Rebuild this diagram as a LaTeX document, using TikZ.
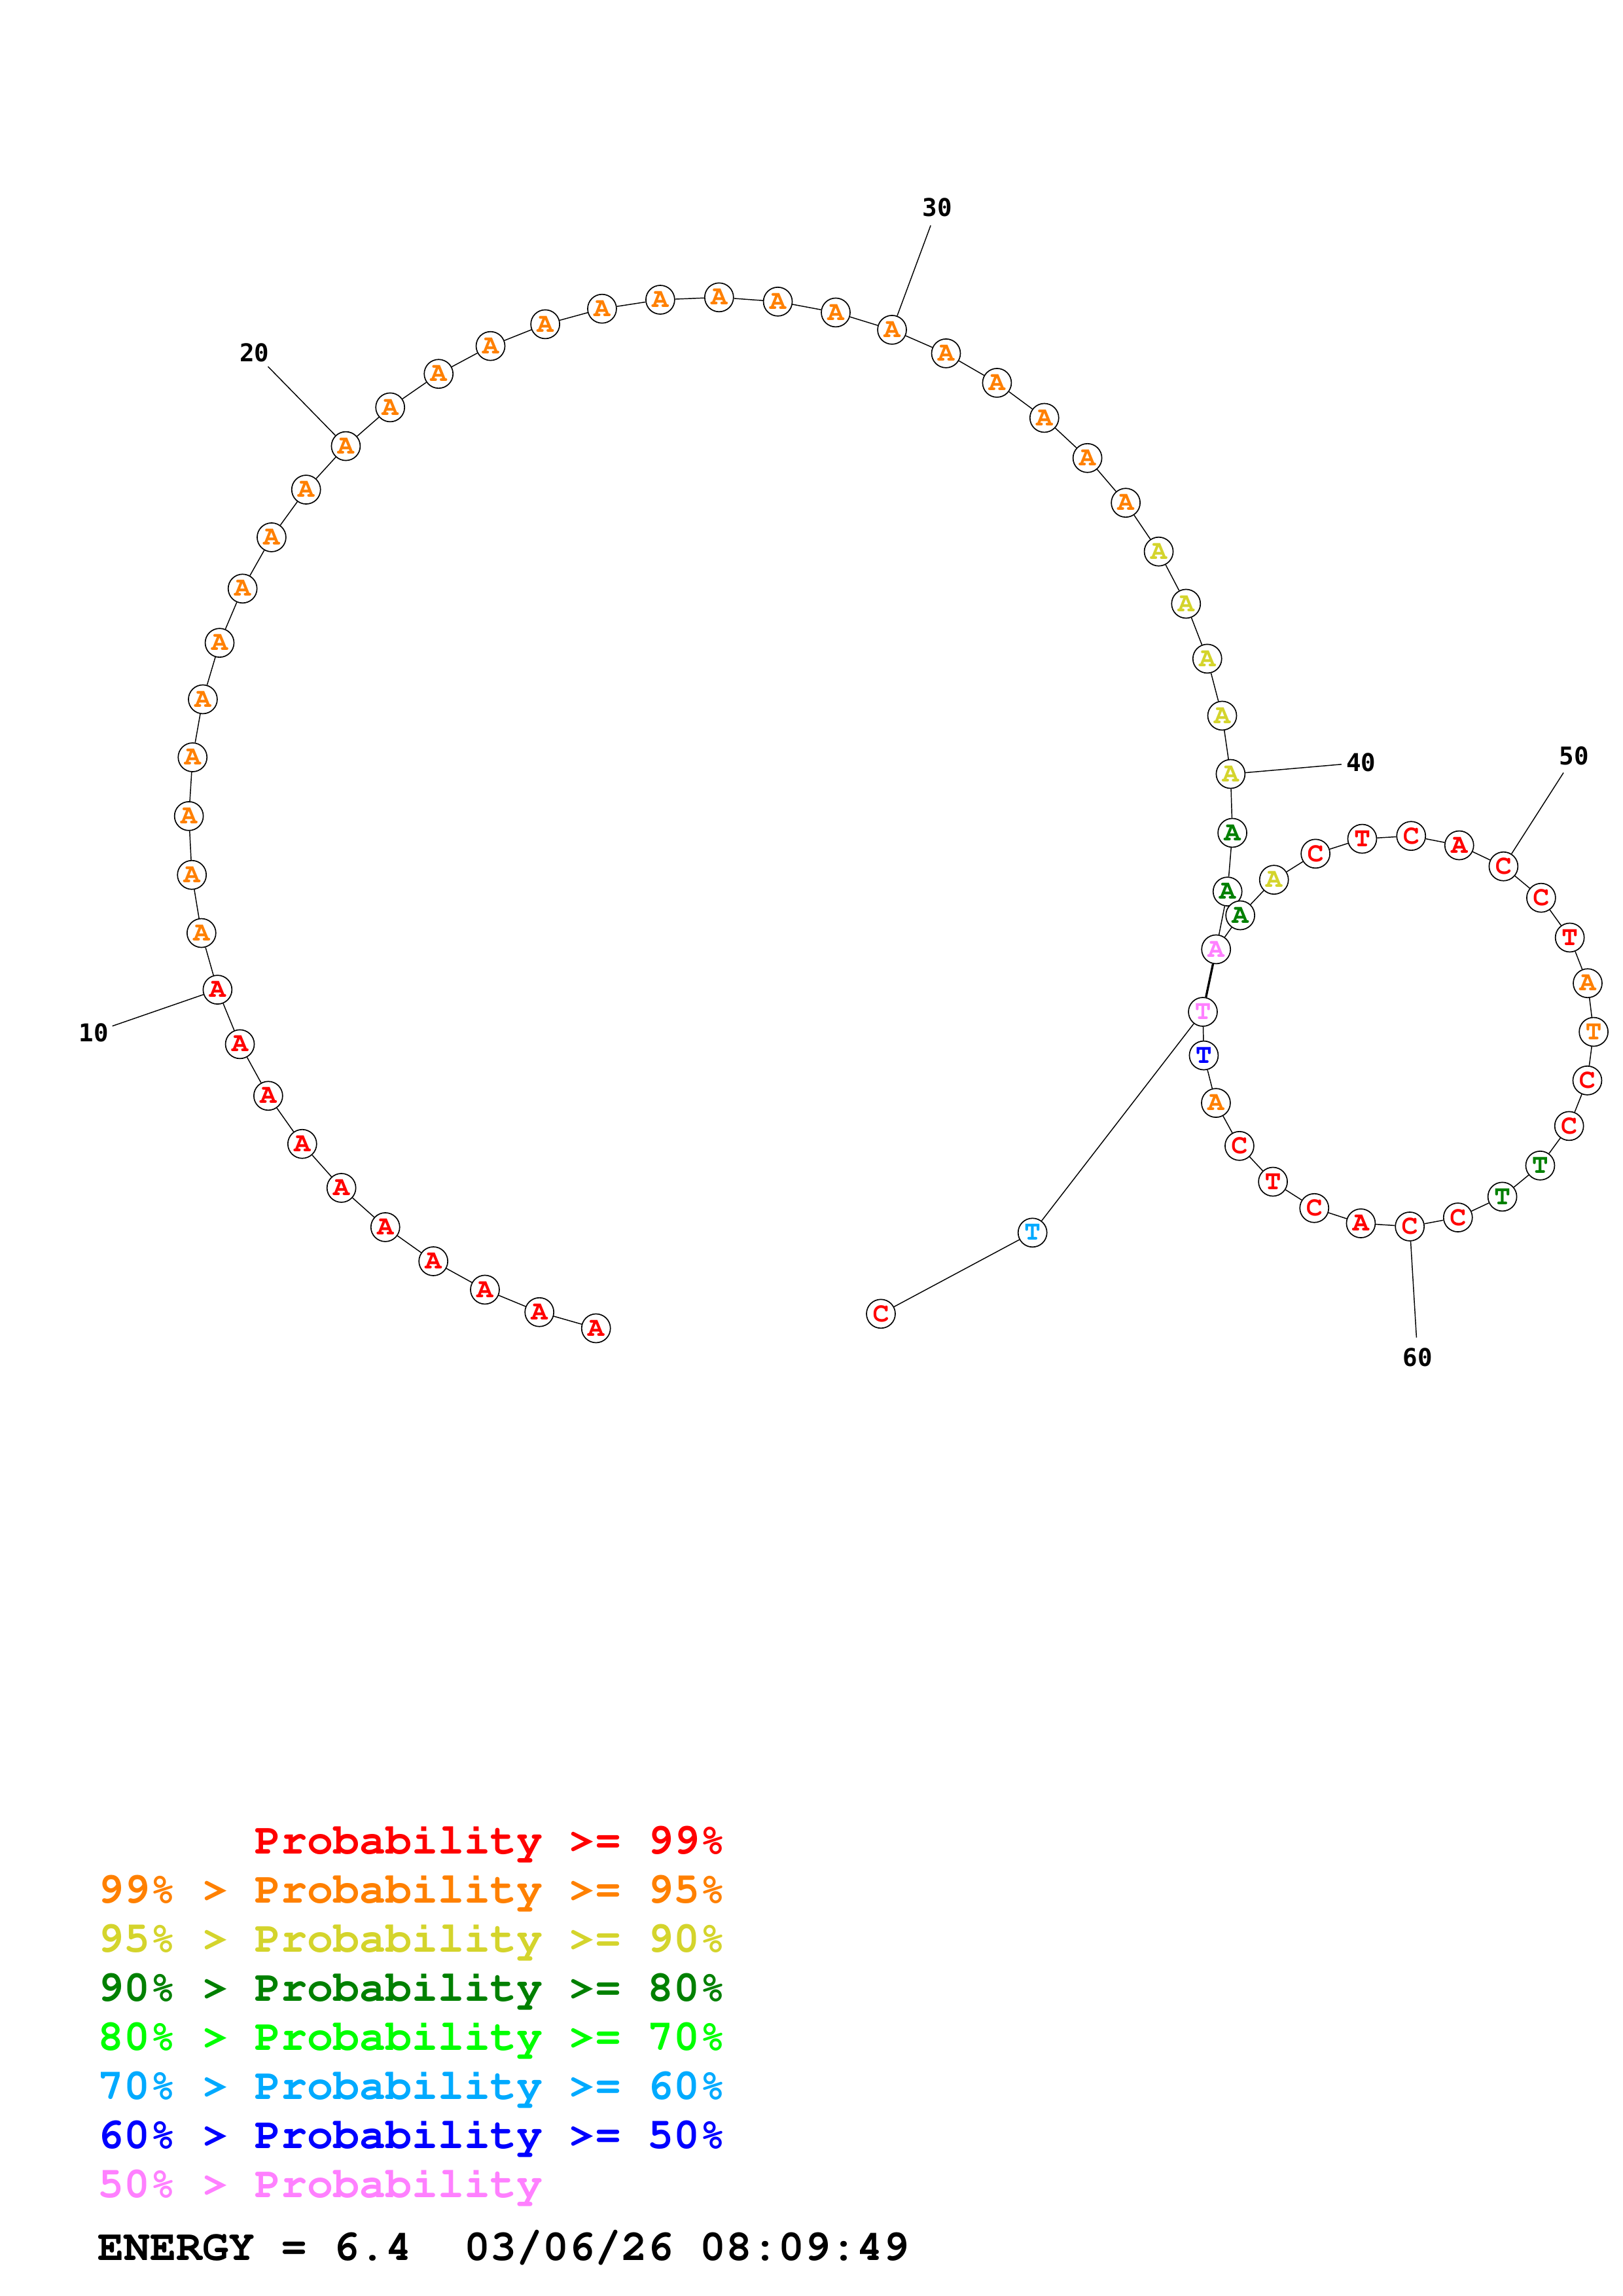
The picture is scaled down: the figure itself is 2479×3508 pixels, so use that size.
\documentclass[tikz,border=0pt]{standalone}
\usepackage[T1,TU]{fontenc}
\usepackage{fontspec}
\newfontfamily\numfont{DejaVu Sans Mono}
\newcommand\courb{\fontencoding{T1}\fontfamily{pcr}\fontseries{b}\selectfont}
\usepackage{tikz}
\usetikzlibrary{calc,backgrounds}

\definecolor{pRed}{RGB}{255,0,0}
\definecolor{pOrange}{RGB}{255,128,0}
\definecolor{pYellow}{RGB}{212,212,44}
\definecolor{pDkGreen}{RGB}{0,128,0}
\definecolor{pGreen}{RGB}{0,255,0}
\definecolor{pCyan}{RGB}{0,170,255}
\definecolor{pBlue}{RGB}{0,0,255}
\definecolor{pPink}{RGB}{255,128,255}

\tikzset{
  nuc/.style={circle,draw=black,fill=white,line width=0.4pt,minimum size=10.56pt,inner sep=0pt,
    font=\courb\fontsize{10}{10}\selectfont},
  bond/.style={line width=0.35pt},
  bpair/.style={line width=0.8pt},
  numlbl/.style={inner sep=0pt,font=\numfont\bfseries\fontsize{9}{9}\selectfont},
  legline/.style={anchor=base west,inner sep=0pt,font=\courb\fontsize{16}{16}\selectfont},
}

\begin{document}
\begin{tikzpicture}[x=0.2401pt,y=-0.2401pt]
\useasboundingbox (0,0) rectangle (2479,3508);

\def\Ra{797.4}
\def\Rb{299}
\coordinate (ctrA) at (1086,1251.6);
\coordinate (ctrB) at (2136.1,1575.5);

% exterior loop 1-43
\foreach \i in {1,...,43}{
  \pgfmathsetmacro\ang{102.7+(\i-1)*6.47}
  \ifnum\i<11 \def\col{pRed}\else
  \ifnum\i<36 \def\col{pOrange}\else
  \ifnum\i<41 \def\col{pYellow}\else
  \ifnum\i<43 \def\col{pDkGreen}\else \def\col{pPink}\fi\fi\fi\fi
  \node[nuc,text=\col] (n\i) at ($(ctrA)+(\ang:\Ra)$) {A};
}

% hairpin loop 44-66
\foreach \b/\col [count=\k from 44] in {A/pDkGreen,A/pYellow,C/pRed,T/pRed,C/pRed,A/pRed,C/pRed,C/pRed,T/pRed,A/pOrange,T/pOrange,C/pRed,C/pRed,T/pDkGreen,T/pDkGreen,C/pRed,C/pRed,A/pRed,C/pRed,T/pRed,C/pRed,A/pOrange,T/pBlue}{
  \pgfmathsetmacro\ang{216.3+(\k-44)*14.39}
  \node[nuc,text=\col] (n\k) at ($(ctrB)+(\ang:\Rb)$) {\b};
}

\node[nuc,text=pPink] (n67) at (1838,1546) {T};
\node[nuc,text=pCyan] (n68) at (1577.7,1883.3) {T};
\node[nuc,text=pRed] (n69) at (1346,2007.3) {C};

% backbone and pair
\begin{scope}[on background layer]
\foreach \i [evaluate=\i as \j using int(\i+1)] in {1,...,68}
  \draw[bond] (n\i) -- (n\j);
\draw[bpair] (n43) -- (n67);
\end{scope}

% numbering
\foreach \i in {10,20,30,40}{
  \pgfmathsetmacro\ang{102.7+(\i-1)*6.47}
  \pgfmathsetmacro\re{\Ra+170}
  \pgfmathsetmacro\rl{\Ra+200}
  \coordinate (e\i) at ($(ctrA)+(\ang:\re)$);
  \draw[bond] (n\i) -- (e\i);
  \node[numlbl] (l\i) at ($(ctrA)+(\ang:\rl)$) {\i};
}
\foreach \i in {50,60}{
  \pgfmathsetmacro\ang{216.3+(\i-44)*14.39}
  \pgfmathsetmacro\re{\Rb+170}
  \pgfmathsetmacro\rl{\Rb+200}
  \coordinate (e\i) at ($(ctrB)+(\ang:\re)$);
  \draw[bond] (n\i) -- (e\i);
  \node[numlbl] (l\i) at ($(ctrB)+(\ang:\rl)$) {\i};
}

% legend
\node[legline,text=pRed] (leg1) at (149,2832.6) {\phantom{99\% > }Probability >= 99\%};
\node[legline,text=pOrange] (leg2) at (149,2907.5) {99\% > Probability >= 95\%};
\node[legline,text=pYellow] (leg3) at (149,2982.5) {95\% > Probability >= 90\%};
\node[legline,text=pDkGreen] (leg4) at (149,3057.4) {90\% > Probability >= 80\%};
\node[legline,text=pGreen] (leg5) at (149,3132.3) {80\% > Probability >= 70\%};
\node[legline,text=pCyan] (leg6) at (149,3207.3) {70\% > Probability >= 60\%};
\node[legline,text=pBlue] (leg7) at (149,3282.2) {60\% > Probability >= 50\%};
\node[legline,text=pPink] (leg8) at (149,3357.1) {50\% > Probability};
\node[legline] (energy) at (149,3453) {ENERGY = 6.4\ \ 03/06/26 08:09:49};

\end{tikzpicture}
\end{document}
